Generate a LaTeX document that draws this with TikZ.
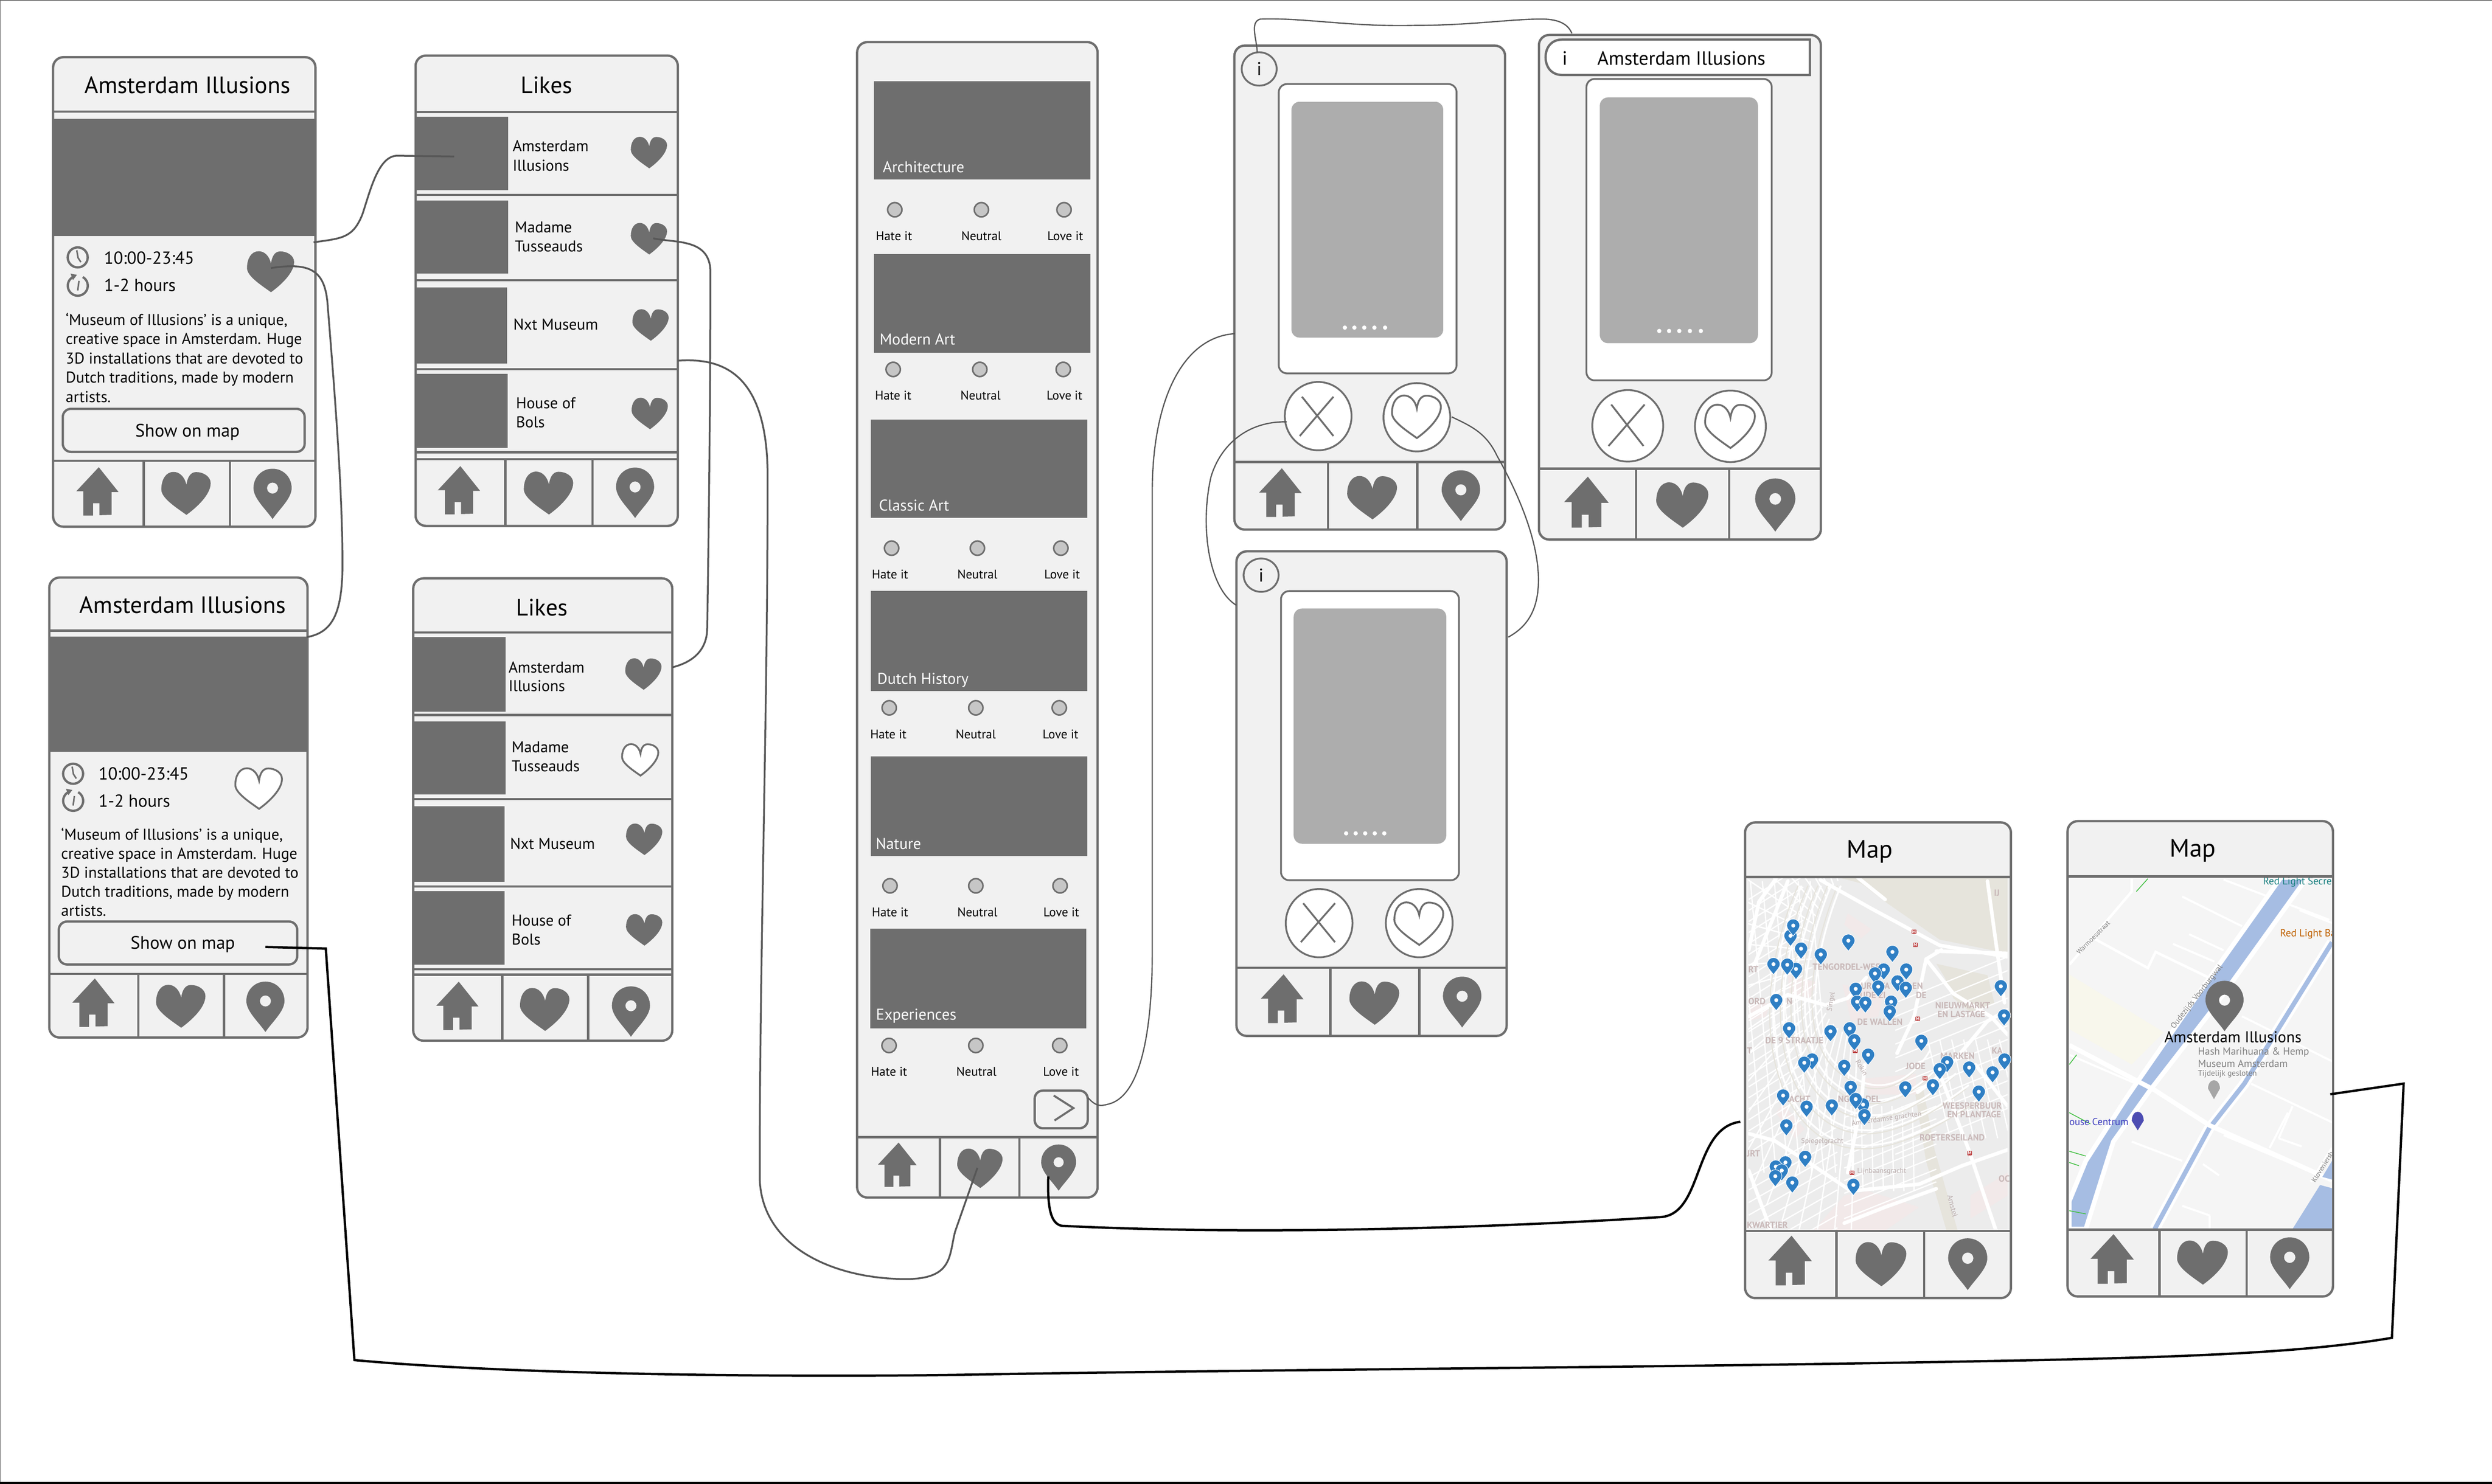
\documentclass[tikz,border=0pt]{standalone}
\usepackage{fontspec}
\setmainfont{PT Sans}
\usetikzlibrary{shapes.geometric}
\definecolor{ink}{HTML}{6E6E6E}
\definecolor{panel}{HTML}{F1F1F1}
\definecolor{cardgray}{HTML}{ADADAD}
\definecolor{radio}{HTML}{C6C6C6}
\definecolor{wire}{HTML}{575757}
\definecolor{mapbg}{HTML}{ECECEC}
\definecolor{maptext}{HTML}{C9B9B9}
\definecolor{canal}{HTML}{A6BDE3}
\definecolor{pinblue}{HTML}{2F7FC4}
\definecolor{maptan}{HTML}{E6E4DC}
\definecolor{mappink}{HTML}{F2E9E9}
\definecolor{maproad}{HTML}{F5F5F5}
\definecolor{mapcream}{HTML}{F8F7EC}
\newcommand{\heartpath}{(0,-4.6) .. controls (-1,-9.3) and (-4,-12.1) .. (-7.4,-12.1) .. controls (-12,-12.1) and (-14.5,-7.5) .. (-14.5,-1.9) .. controls (-14.5,3) and (-6,8.4) .. (0,12.7) .. controls (6,8.4) and (14,1) .. (14,-5.6) .. controls (14,-9.3) and (10,-12) .. (5.6,-12) .. controls (2,-12) and (0.5,-8.4) .. (0,-4.6) -- cycle}
\newcommand{\pinpath}{(0,17.9) .. controls (-4,12) and (-11,6) .. (-11,0) .. controls (-11,-6.5) and (-6,-11.2) .. (0,-11.2) .. controls (6,-11.2) and (11,-6.5) .. (11,0) .. controls (11,6) and (4,12) .. (0,17.9) -- cycle}
\tikzset{
 phonebox/.style={draw=ink,fill=panel,line width=4.5pt,rounded corners=20pt,inner sep=0pt,outer sep=0pt},
 graybox/.style={fill=ink,inner sep=0pt,outer sep=0pt},
 cardbox/.style={draw=ink,fill=white,line width=3.5pt,rounded corners=16pt,inner sep=0pt,outer sep=0pt},
 photobox/.style={fill=cardgray,rounded corners=16pt,inner sep=0pt,outer sep=0pt},
 btnbox/.style={draw=ink,fill=panel,line width=4.5pt,rounded corners=16pt,inner sep=0pt,outer sep=0pt},
 ruleline/.style={draw=ink,line width=4.5pt},
 roundbtn/.style={ellipse,draw=ink,fill=white,line width=3.5pt,inner sep=0pt,outer sep=0pt},
 txt/.style={inner sep=0pt,outer sep=0pt,text depth=0pt},
 txl/.style={txt,anchor=west},
 ftitle/.style={font=\fontsize{46}{55}\selectfont,text height=34pt},
 fmap/.style={font=\fontsize{49}{58}\selectfont,text height=35pt},
 fbody/.style={font=\fontsize{30.5}{37}\selectfont,text height=22pt},
 ftime/.style={font=\fontsize{34}{40}\selectfont,text height=24pt},
 fbtn/.style={font=\fontsize{35}{42}\selectfont,text height=25pt},
 fhead/.style={font=\fontsize{37.5}{44}\selectfont,text height=27pt},
 fover/.style={font=\fontsize{30.6}{37}\selectfont,text height=22pt},
 fsmall/.style={font=\fontsize{24.5}{30}\selectfont,text height=17pt},
 conn/.style={draw=wire,line width=3.5pt},
 thinconn/.style={draw=wire,line width=2.4pt},
 blackconn/.style={draw=black,line width=4.5pt},
 homeicon/.pic={\fill[ink] (0.6,-13.9)--(12,0.4)--(8,0.4)--(8,13.6)--(1,13.8)--(1,6.9)--(-2.7,6.9)--(-2.7,14)--(-8.3,14)--(-8.3,0)--(-12.4,0)--cycle;},
 heartfill/.pic={\fill[ink] \heartpath;},
 heartline/.pic={\draw[ink,line width=3.5pt,fill=white] \heartpath;},
 pinicon/.pic={\fill[ink,even odd rule] \pinpath (0,0) circle (3.2);},
 bluepin/.pic={\draw[white,line width=1pt,fill=pinblue] \pinpath; \fill[white] (0,0) circle (3.4);},
 radiodot/.pic={\draw[ink,fill=radio,line width=3pt] (0,0) circle (4.5);},
 clockicon/.pic={\draw[ink,line width=4.5pt] (0,0) circle (6.3);\draw[ink,line width=3pt] (-0.6,-4.5)--(0.2,0.2)--(2,3);},
 timericon/.pic={\draw[ink,line width=4.5pt] (-1.8,-6) arc (-107:-420:6.3);\draw[ink,line width=3pt] (0.8,-3)--(0,3);\fill[ink] (-4.5,-7.6)--(-0.5,-6.8)--(-3,-3.5)--cycle;},
}
\newcommand{\bx}[6]{\node[#1,minimum width={(#5-#3)*3.09pt},minimum height={(#6-#4)*3.09pt}] (#2) at ({(#3+#5)/2},{(#4+#6)/2}) {};}
\newcommand{\navlines}[6]{\draw[ruleline] (#1,#5)--(#2,#5); \draw[ruleline] (#3,#5)--(#3,#6); \draw[ruleline] (#4,#5)--(#4,#6);}
\newcommand{\navicons}[7]{\pic[scale=#1] at (#2,#3) {homeicon}; \pic[scale=#1] at (#4,#5) {heartfill}; \pic[scale=#1] at (#6,#7) {pinicon};}
\newcount\lblc
\newcommand{\lbl}[4]{\global\advance\lblc by 1 \node[#1] (t\the\lblc) at (#2,#3) {#4};}
\newcommand{\xmark}[8]{\draw[ink,line width=3.5pt] (#1,#2)--(#3,#4); \draw[ink,line width=3.5pt] (#5,#6)--(#7,#8);}
\newcommand{\photodots}[6]{\foreach \dx in {#2,#3,#4,#5,#6}{\fill[white] (\dx,#1) circle (1.35);}}
\newcommand{\rate}[7]{\pic at (#1,#2) {radiodot}; \pic at (#3,#2) {radiodot}; \pic at (#4,#2) {radiodot};
 \lbl{txt,fsmall}{#5}{#7}{Hate it}\lbl{txt,fsmall}{#6}{#7}{Neutral}\lbl{txt,fsmall}{#4+.8}{#7}{Love it}}
\begin{document}
\begin{tikzpicture}[x=3.09pt,y=-3.09pt]
\useasboundingbox (0,0) rectangle (1568,934);
\fill[white] (0,0) rectangle (1568,934);
\draw[black!80,line width=3pt] (0,0)--(1568,0);
\draw[black!60,line width=3pt] (0,0)--(0,934);
\draw[black,line width=8pt] (0,934)--(1568,934);

% ---------- Screen A
\bx{phonebox}{scrA}{33.4}{36}{198.5}{331.5}
\lbl{txt,ftitle}{118}{53.4}{Amsterdam Illusions}
\draw[ruleline] (33.4,70.3)--(198.5,70.3);
\bx{graybox}{imgA}{34}{74.6}{198}{148.4}
\pic at (48.9,162) {clockicon}; \pic at (48.9,179.8) {timericon};
\lbl{txl,ftime}{65.5}{162.3}{10:00-23:45}
\lbl{txl,ftime}{65.5}{179.5}{1-2 hours}
\pic[scale=1.04] at (170.5,170.7) {heartfill};
\lbl{txl,fbody}{41.4}{201}{‘Museum of Illusions’ is a unique,}
\lbl{txl,fbody}{41.4}{213.2}{creative space in Amsterdam. Huge}
\lbl{txl,fbody}{41.4}{225.3}{3D installations that are devoted to}
\lbl{txl,fbody}{41.4}{237.4}{Dutch traditions, made by modern}
\lbl{txl,fbody}{41.4}{249.6}{artists.}
\bx{btnbox}{btnA}{39.5}{257.3}{191.7}{284.4}
\lbl{txt,fbtn}{118}{270.8}{Show on map}
\navlines{33.4}{198.5}{90.5}{144.7}{290}{331.5}
\navicons{1.09}{61.5}{309.2}{117.3}{310.2}{171.5}{307.2}

% ---------- Screen B
\bx{phonebox}{scrB}{261.5}{35}{426.5}{331}
\lbl{txt,ftitle}{344}{53.4}{Likes}
\foreach \yy in {70.6,122.7,176.3,232.4,284.6,289}{\draw[ruleline] (261.5,\yy)--(426.5,\yy);}
\bx{graybox}{imgB1}{262}{73.6}{319.9}{119.7}
\bx{graybox}{imgB2}{262}{126.2}{319.9}{172.3}
\bx{graybox}{imgB3}{262}{180.8}{319.1}{228.9}
\bx{graybox}{imgB4}{262}{235.4}{319.4}{281.9}
\lbl{txl,fbody}{322.6}{91.8}{Amsterdam}
\lbl{txl,fbody}{322.6}{104}{Illusions}
\lbl{txl,fbody}{324}{143}{Madame}
\lbl{txl,fbody}{324}{154.9}{Tusseauds}
\lbl{txl,fbody}{323}{204}{Nxt Museum}
\lbl{txl,fbody}{324.7}{253.6}{House of}
\lbl{txl,fbody}{324.7}{265.4}{Bols}
\pic[scale=.8] at (408.5,95.8) {heartfill};
\pic[scale=.8] at (408.5,150) {heartfill};
\pic[scale=.8] at (409.5,204.3) {heartfill};
\pic[scale=.8] at (409,260) {heartfill};
\navlines{261.5}{426.5}{318}{372.8}{289}{331}
\navicons{1.09}{289}{308.5}{345.4}{310}{399.6}{306.5}

% ---------- Screen C
\bx{phonebox}{scrC}{31}{363.5}{193.5}{653}
\lbl{txt,ftitle}{115}{380.5}{Amsterdam Illusions}
\draw[ruleline] (31,397)--(193.5,397);
\bx{graybox}{imgC}{31.6}{400.5}{193}{473}
\pic at (46,487) {clockicon}; \pic at (46,504) {timericon};
\lbl{txl,ftime}{62}{487}{10:00-23:45}
\lbl{txl,ftime}{62}{504}{1-2 hours}
\pic[scale=1.03] at (163,496) {heartline};
\lbl{txl,fbody}{38.5}{525}{‘Museum of Illusions’ is a unique,}
\lbl{txl,fbody}{38.5}{537}{creative space in Amsterdam. Huge}
\lbl{txl,fbody}{38.5}{549}{3D installations that are devoted to}
\lbl{txl,fbody}{38.5}{561}{Dutch traditions, made by modern}
\lbl{txl,fbody}{38.5}{573}{artists.}
\bx{btnbox}{btnC}{37}{580}{187}{607}
\lbl{txt,fbtn}{115}{593.3}{Show on map}
\navlines{31}{193.5}{87}{141}{613}{653}
\navicons{1.09}{59}{631}{114}{633}{167}{630}

% ---------- Screen D
\bx{phonebox}{scrD}{260}{364}{423}{655}
\lbl{txt,ftitle}{341}{382}{Likes}
\foreach \yy in {398,450,503,558,610,613.5}{\draw[ruleline] (260,\yy)--(423,\yy);}
\bx{graybox}{imgD1}{260.5}{401}{318}{448}
\bx{graybox}{imgD2}{260.5}{454}{318}{500}
\bx{graybox}{imgD3}{260.5}{507.5}{317.5}{555}
\bx{graybox}{imgD4}{260.5}{561}{317.5}{607}
\lbl{txl,fbody}{320}{420}{Amsterdam}
\lbl{txl,fbody}{320}{431.5}{Illusions}
\lbl{txl,fbody}{322}{470}{Madame}
\lbl{txl,fbody}{322}{482}{Tusseauds}
\lbl{txl,fbody}{321}{531}{Nxt Museum}
\lbl{txl,fbody}{322}{579}{House of}
\lbl{txl,fbody}{322}{591}{Bols}
\pic[scale=.8] at (405,424) {heartfill};
\pic[scale=.8] at (403,478) {heartline};
\pic[scale=.8] at (405.5,528) {heartfill};
\pic[scale=.8] at (405.5,585) {heartfill};
\navlines{260}{423}{316}{370}{613.5}{655}
\navicons{1.09}{288}{633}{343}{635}{397}{633}

% ---------- Screen E
\bx{phonebox}{scrE}{539.3}{26.5}{690.6}{753.7}
\bx{graybox}{catA}{550}{51}{686}{113}
\lbl{txl,fbody,text=white}{555.5}{105}{Architecture}
\rate{563}{132}{617.5}{669.5}{562.5}{617.5}{148.5}
\bx{graybox}{catB}{550}{160}{686}{222}
\lbl{txl,fbody,text=white}{553.5}{213.5}{Modern Art}
\rate{562}{232.5}{616.5}{669}{562}{617}{249}
\bx{graybox}{catC}{548}{264}{684}{326}
\lbl{txl,fbody,text=white}{553}{318}{Classic Art}
\rate{561}{345}{615}{667.5}{560}{615}{361.5}
\bx{graybox}{catD}{548}{372}{684}{435}
\lbl{txl,fbody,text=white}{552}{427}{Dutch History}
\rate{559.5}{445.5}{614}{666.5}{559}{614}{462}
\bx{graybox}{catE}{548}{476}{684}{539}
\lbl{txl,fbody,text=white}{551}{531}{Nature}
\rate{560}{557.5}{614}{667}{560}{615}{574}
\bx{graybox}{catF}{547.7}{584.4}{683.5}{647.4}
\lbl{txl,fbody,text=white}{551.2}{638.4}{Experiences}
\rate{559.4}{658}{614}{666.8}{559.4}{614.4}{674.6}
\bx{btnbox}{nextE}{651}{686.4}{684.4}{710.1}
\draw[ink,line width=4pt] (663,689.5)--(675.4,697.4)--(663.5,705.2);
\navlines{539.3}{690.6}{591.4}{641.4}{715.7}{753.7}
\navicons{1}{564.8}{733}{616.8}{735}{666.1}{731.5}

% ---------- Screen F
\bx{phonebox}{scrF}{776.7}{28.7}{947}{333.3}
\node[roundbtn,fill=panel,minimum width=22*3.09pt,minimum height=21*3.09pt,font=\fontsize{36}{40}\selectfont] (infoF) at (792.3,43.4) {i};
\bx{cardbox}{cardF}{804.6}{52.9}{916.5}{235}
\bx{photobox}{photoF}{812.6}{64}{908.1}{212.5}
\photodots{206.2}{846.2}{852.2}{858.4}{864.8}{871.5}
\node[roundbtn,minimum width=42*3.09pt,minimum height=43*3.09pt] (noF) at (829.4,261.9) {};
\node[roundbtn,minimum width=42*3.09pt,minimum height=43*3.09pt] (yesF) at (891.5,262.6) {};
\xmark{819.2}{249.7}{839}{274.4}{839}{249.7}{817.8}{274.4}
\pic[scale=1.08] at (891.5,262) {heartline};
\navlines{776.7}{947}{835.6}{891.8}{290.8}{333.3}
\navicons{1.1}{805.9}{310}{863.6}{312.9}{919.2}{308.3}

% ---------- Screen G
\bx{phonebox}{scrG}{968.3}{22}{1145.7}{339.6}
\draw[ink,line width=4.5pt,fill=white] (1138.8,24.9) -- (1138.8,47.2) -- (983,47.2) .. controls (976,47.2) and (972.5,42) .. (972.5,36) .. controls (972.5,30) and (976,24.9) .. (983,24.9) -- cycle;
\coordinate (infoG) at (989,21);
\node[txt,fhead] (iG) at (984.6,36.5) {i};
\node[txl,fhead] (titleG) at (1005.1,36.5) {Amsterdam Illusions};
\bx{cardbox}{cardG}{998.2}{49.7}{1114.8}{239.4}
\bx{photobox}{photoG}{1006.6}{61.3}{1106.1}{216}
\photodots{208.3}{1044}{1050.2}{1056.6}{1063.3}{1070.2}
\node[roundbtn,minimum width=44.6*3.09pt,minimum height=45*3.09pt] (noG) at (1024.2,268) {};
\node[roundbtn,minimum width=44.6*3.09pt,minimum height=45*3.09pt] (yesG) at (1088.8,268.3) {};
\xmark{1013.8}{254.6}{1034.1}{280.7}{1034.8}{254.6}{1012.1}{280.7}
\pic[scale=1.1] at (1088.8,268) {heartline};
\navlines{968.3}{1145.7}{1029.4}{1088}{295}{339.6}
\navicons{1.15}{998.4}{316}{1058.8}{317.5}{1117}{314}

% ---------- Screen H
\bx{phonebox}{scrH}{778}{347}{948}{652}
\node[roundbtn,fill=panel,minimum width=22*3.09pt,minimum height=21*3.09pt,font=\fontsize{36}{40}\selectfont] (infoH) at (793.5,362) {i};
\bx{cardbox}{cardH}{806}{372}{918}{554}
\bx{photobox}{photoH}{814}{383}{910}{531}
\photodots{524.5}{847}{853}{859}{865}{871}
\node[roundbtn,minimum width=42*3.09pt,minimum height=43*3.09pt] (noH) at (830,581) {};
\node[roundbtn,minimum width=42*3.09pt,minimum height=43*3.09pt] (yesH) at (893,581) {};
\xmark{820}{568.5}{840}{593}{840}{568.5}{818.5}{593}
\pic[scale=1.08] at (893,581) {heartline};
\navlines{778}{948}{837}{893}{609}{652}
\navicons{1.1}{807}{628.5}{865}{631}{920}{627}

% ---------- Screen I (map of pins)
\bx{phonebox}{scrI}{1098}{517.6}{1265.3}{817}
\begin{scope}[shift={(1100.3,550.2)},xscale=0.1073,yscale=0.1445]
\begin{scope}
\clip (-3,15) rectangle (1518,1552);
\fill[mapbg] (-3,15) rectangle (1518,1552);
% tan land and water
\fill[maptan] (530,15)--(1520,15)--(1520,345)--(1120,285)--(800,120)--(660,40)--cycle;
\fill[maptan] (1100,390)--(1400,440)--(1440,560)--(1300,600)--(1200,540)--(1150,450)--cycle;
\fill[maptan] (975,950)--(1025,940)--(1090,1200)--(1225,1552)--(1160,1552)--(1040,1250)--cycle;
% pink patches
\fill[mappink] (230,440)--(400,470)--(360,540)--(240,520)--cycle;
\fill[mappink] (580,170)--(720,240)--(660,280)--(560,220)--cycle;
\fill[mappink] (200,1000)--(330,1110)--(270,1150)--(160,1040)--cycle;
\fill[mappink] (380,1552)--(560,1400)--(700,1380)--(1000,1450)--(800,1552)--cycle;
\fill[mappink] (0,570)--(130,560)--(100,620)--(0,640)--cycle;
\fill[mappink] (550,480)--(790,520)--(760,620)--(600,640)--cycle;
\fill[mappink] (1300,1400)--(1518,1300)--(1518,1400)--(1300,1500)--cycle;
\fill[mappink] (680,890)--(980,870)--(980,960)--(700,960)--cycle;
% western blocks
\foreach \k in {0,48,...,1150}{\draw[white,line width=2.4pt] (0,{110+\k})--(320,{-40+\k});}
\foreach \k in {0,70,...,420}{\draw[white,line width=2.4pt] ({\k-60},30)--({\k+90},1300);}
% radial streets round the centre
\foreach \ang in {93,99,...,280}{\draw[white,line width=2.6pt] ({650+280*cos(\ang)},{350+360*sin(\ang)})--({650+1000*cos(\ang)},{350+1300*sin(\ang)});}
% eastern and southern blocks
\foreach \k in {0,60,...,660}{\draw[white,line width=2.4pt] (860,{560+\k})--(1518,{360+\k});}
\foreach \k in {0,70,...,420}{\draw[white,line width=2.4pt] ({1050+\k},{720})--({1180+\k},{1150});}
\foreach \k in {0,55,...,440}{\draw[white,line width=2.4pt] (560,{1060+\k})--(1100,{900+\k});}
\foreach \k in {0,60,...,360}{\draw[white,line width=2.4pt] ({600+\k},1010)--({610+\k},1380);}
\foreach \k in {0,55,...,500}{\draw[white,line width=2.4pt] (0,{1320+\k})--(520,{1100+\k});}
% ring canals
\foreach \k in {0,.16,.32,.48,.64}{
 \draw[maptan,line width=2.2pt] ({520-360*\k},{50}) .. controls ({330-450*\k},{400+100*\k}) and ({300-380*\k},{760+320*\k}) .. ({560-200*\k},{880+420*\k}) .. controls ({760-100*\k},{1000+420*\k}) and ({960+100*\k},{900+380*\k}) .. ({1050+470*\k},{780+320*\k});
 \draw[white,line width=3.5pt] ({540-360*\k},{50}) .. controls ({350-450*\k},{400+100*\k}) and ({320-380*\k},{750+320*\k}) .. ({575-200*\k},{865+420*\k}) .. controls ({775-100*\k},{985+420*\k}) and ({975+100*\k},{885+380*\k}) .. ({1065+470*\k},{765+320*\k});
}
% main roads
\foreach \a/\b/\c/\d in {420/25/720/150,720/150/1120/310,1120/310/1520/360,1100/335/1520/345,640/15/800/110,1400/30/1450/300,1450/300/1500/560,160/20/60/120,60/120/0/330,230/30/30/400,1040/370/1200/520,1200/520/1420/620,1420/620/1520/700,1130/330/1040/370,1040/370/970/620,970/620/870/780,1100/830/1290/1200,1290/1200/1450/1552,1330/830/1518/1010,0/620/230/525,230/525/450/570,450/570/580/540,580/540/690/450,1150/860/1400/640,1400/640/1520/590,0/1130/150/1160,150/1160/360/1260,360/1260/600/1380,600/1380/1000/1350,1000/1350/1250/1270,1250/1270/1520/1200,560/1520/800/1450,800/1450/1100/1370,0/1290/130/1552,990/950/1150/860,680/830/660/1000,660/1000/580/1300}
 {\draw[white,line width=7pt,line cap=round] (\a,\b)--(\c,\d);}
\end{scope}
\end{scope}
\begin{scope}[shift={(1084.1,508.1)},xscale=0.289,yscale=0.2023]
\begin{scope}
\clip (52,221) rectangle (625,1316);
\foreach \tx/\ty/\tl in {55/505/RT,195/497/TENGORDEL-WES,55/603/ORD,138/603/N,300/556/URGWA,412/556/EN,298/585/UDE ZI,420/585/DE,
 292/668/DE WALLEN,92/725/DE 9 STRAATJE,462/617/NIEUWMARKT,467/643/EN LASTAGE,473/773/MARKEN,398/806/JODE,585/757/KA,52/757/T,
 133/908/RACHT,250/908/NG,310/908/DEL,478/929/WEESPERBUUR,488/955/EN PLANTAGE,428/1027/ROETERSEILAND,52/1077/JRT,52/1300/KWARTIER,590/267/IJ,600/1155/OC}
 {\node[inner sep=0pt,anchor=west,text=maptext,font=\fontsize{17.5}{22}\selectfont\bfseries] (m\tx) at (\tx,\ty) {\tl};}
\node[inner sep=0pt,anchor=west,text=maptext!80!gray,font=\fontsize{14}{16}\selectfont] (mSp) at (170,1040) {Spiegelgracht};
\node[inner sep=0pt,anchor=west,text=maptext!80!gray,font=\fontsize{14}{16}\selectfont] (mLi) at (292,1133) {Lijnbaansgracht};
\node[inner sep=0pt,anchor=west,text=maptext!80!gray,rotate=8,font=\fontsize{14}{16}\selectfont] (mAg) at (280,985) {Amsterdamse grachten};
\node[inner sep=0pt,text=maptext!80!gray,rotate=80,font=\fontsize{14}{16}\selectfont] (mSi) at (236,605) {Singel};
\node[inner sep=0pt,text=maptext!80!gray,rotate=-60,font=\fontsize{14}{16}\selectfont] (mRo) at (302,810) {Rokin};
\node[inner sep=0pt,text=maptext!80!gray,rotate=-75,font=\fontsize{15}{18}\selectfont] (mAm) at (500,1240) {Amstel};
\foreach \mx/\my in {419/428,424/658,288/758,440/843,537/1076,281/1137,416/387}
 {\node[fill=red!65!black!75,text=white,inner sep=1pt,rounded corners=1pt,font=\fontsize{9}{10}\selectfont\bfseries] (me\mx) at (\mx,\my) {M};}
\end{scope}
\end{scope}
\foreach \zx/\zy in {147/400,153/368,170/440,273/415,213/458,369/450,159/503,110/488,140/490,350/505,331/517,399/505,380/542,398/562,338/558,289/565,605/557,116/600,292/605,310/608,366/605,363/635,612/648,144/688,234/697,276/688,286/725,432/727,316/770,194/785,177/795,264/805,488/793,536/810,472/815,587/825,613/785,457/865,397/872,278/870,557/885,131/897,305/925,289/908,182/932,237/928,308/958,138/990,179/1088,136/1105,115/1118,128/1130,114/1148,151/1168,284/1175}
 {\pic[scale=.37] at ({1084.1+\zx/3.46},{508.1+\zy/4.944}) {bluepin};}
\draw[ruleline] (1098,552)--(1265.3,552);
\lbl{txt,fmap}{1176.6}{534.4}{Map}
\navlines{1098}{1265.3}{1155.5}{1210.7}{774.7}{817}
\navicons{1.12}{1126.6}{793.3}{1183.8}{795.3}{1238.1}{791.9}

% ---------- Screen J (street map)
\bx{phonebox}{scrJ}{1300.9}{516.8}{1467.9}{816}
\begin{scope}[shift={(1084.1,508.1)},xscale=0.289,yscale=0.2023]
\begin{scope}
\clip (754,218) rectangle (1326,1312);
\fill[maproad] (754,218) rectangle (1326,1312);
\fill[mapcream] (754,520)--(960,700)--(890,800)--(754,690)--cycle;
\draw[white,line width=5pt] (890,222)--(890,262)--(754,490);
\draw[white,line width=5pt] (810,410)--(925,500)--(942,450)--(1080,545);
\foreach \lx/\ly/\mx/\my in {1000/278/1130/370,1090/225/1320/350,1015/395/1090/445,980/425/1070/480,1255/320/1326/360,754/770/900/860,890/1040/1000/1100,1150/860/1326/980,1090/1020/1326/1160,1240/930/1210/1030,1210/1030/1260/1055,1190/1060/1230/950,1045/1110/1080/1145,1000/1240/1060/1270,1060/1270/1060/1312,1130/650/1326/790}
 {\draw[white,line width=4pt] (\lx,\ly)--(\mx,\my);}
\filldraw[fill=canal,draw=white,line width=9pt] (754,1225)--(790,1100)--(880,900)--(1040,570)--(1215,218)--(1272,218)--(1060,640)--(930,880)--(850,1040)--(790,1312)--(754,1312)--cycle;
\draw[white,line width=20pt] (940,1312)--(1058,1000)--(1135,860)--(1326,420);
\draw[canal,line width=9pt] (940,1312)--(1058,1000)--(1135,860)--(1326,420);
\draw[white,line width=9pt] (754,740)--(940,880)--(1060,990)--(1326,1160);
\fill[canal] (1240,1312)--(1300,1175)--(1326,1185)--(1326,1312)--cycle;
\fill[canal] (1305,1150)--(1326,1100)--(1326,1158)--cycle;
\draw[white,line width=5pt] (1280,1165)--(1326,1060);
\draw[green!50!gray,line width=1.5pt] (900,262)--(925,222);
\draw[green!50!gray,line width=1.5pt] (754,800)--(770,770);
\draw[green!50!gray,line width=1.5pt] (754,950)--(800,985);
\draw[green!50!gray,line width=1.5pt] (754,1070)--(790,1085);
\draw[green!50!gray,line width=1.5pt] (754,1105)--(775,1115);
\draw[green!50!gray,line width=1.5pt] (754,1255)--(790,1265);
\node[inner sep=0pt,text=gray,rotate=45,font=\fontsize{13.5}{16}\selectfont] (jWa) at (806,405) {Warmoesstraat};
\node[inner sep=0pt,text=gray,rotate=52,font=\fontsize{15.5}{18}\selectfont] (jOu) at (1032,590) {Oudezijds Voorburgwal};
\node[inner sep=0pt,text=gray,rotate=58,font=\fontsize{13.5}{16}\selectfont,anchor=west] (jKl) at (1285,1165) {Kloveniersb};
\node[inner sep=0pt,anchor=west,text=teal!80!gray,font=\fontsize{20}{24}\selectfont] (jRs) at (1176,232) {Red Light Secre};
\node[inner sep=0pt,anchor=west,text=orange!75!black,font=\fontsize{20}{24}\selectfont] (jRb) at (1213,395) {Red Light Ba};
\node[inner sep=0pt,anchor=west,text=blue!50!gray,font=\fontsize{19.5}{24}\selectfont] (jHo) at (754,978) {ouse Centrum};
\fill[blue!40!gray] (903,1005) -- (890,975) arc (180:360:13 and 28) -- cycle;
\end{scope}
\node[inner sep=0pt,anchor=west,text=gray,font=\fontsize{20}{24}\selectfont] (jHa) at (1034,762) {Hash Marihuana \& Hemp};
\node[inner sep=0pt,anchor=west,text=gray,font=\fontsize{20}{24}\selectfont] (jMu) at (1034,797) {Museum Amsterdam};
\node[inner sep=0pt,anchor=west,text=gray,font=\fontsize{15.5}{19}\selectfont] (jTi) at (1034,829) {Tijdelijk gesloten};
\fill[gray!70] (1069,908) -- (1056,875) arc (180:360:13 and 26) -- cycle;
\end{scope}
\pic[scale=1.09] at (1399.7,629.5) {pinicon};
\lbl{txt,fover}{1405}{652.5}{Amsterdam Illusions}
\draw[ruleline] (1300.9,551.6)--(1467.9,551.6);
\lbl{txt,fmap}{1379.8}{533.8}{Map}
\navlines{1300.9}{1467.9}{1358.7}{1413.6}{774}{816}
\navicons{1.12}{1329.2}{792.3}{1386.1}{794.3}{1440.7}{791.3}

% ---------- Connector ends
\coordinate (c1s) at (197.3,152.5);
\coordinate (c1e) at (285.8,98.5);
\coordinate (c2s) at (170.5,168.7);
\coordinate (c2e) at (193,401);
\coordinate (c3s) at (411,150);
\coordinate (c3e) at (423,420);
\coordinate (c4s) at (426.5,227);
\coordinate (c4e) at (615,735);
\coordinate (c5s) at (684.4,690.7);
\coordinate (c5e) at (777,210);
\coordinate (c6s) at (791,33);
\coordinate (c7s) at (809.6,265.5);
\coordinate (c7e) at (778,381);
\coordinate (c8s) at (913.5,262.4);
\coordinate (c8e) at (949,401);
\coordinate (c9s) at (659.6,740.4);
\coordinate (c9e) at (1095,706);
\coordinate (c10s) at (167,596);
\coordinate (c10e) at (1466.2,688.7);

\draw[conn] (c1s) .. controls (215,150) and (222,150) .. (228,135) .. controls (233,120) and (238,98) .. (250,98) -- (c1e);
\draw[conn] (c2s) .. controls (195,165) and (204,170) .. (206,190) .. controls (210,240) and (215,300) .. (215.5,350) .. controls (216,385) and (210,398) .. (c2e);
\draw[conn] (c3s) .. controls (425,153) and (446,150) .. (447,170) .. controls (447,250) and (446,330) .. (445,395) .. controls (445,410) and (435,417) .. (c3e);
\draw[conn] (c4s) .. controls (455,225) and (483,235) .. (483,300) .. controls (483,450) and (478,600) .. (478,740) .. controls (478,785) and (525,805) .. (570,805) .. controls (600,805) and (597,790) .. (601,775) -- (c4e);
\draw[thinconn] (c5s) .. controls (690,697) and (693,696) .. (697,695) .. controls (720,690) and (725,640) .. (725,600) -- (725,310) .. controls (725,250) and (745,212) .. (c5e);
\draw[thinconn] (c6s) .. controls (791,25) and (786,14) .. (793,12) .. controls (820,11) and (850,17) .. (890,16) .. controls (925,16) and (950,12) .. (970,12) .. controls (982,12) and (987,16) .. (infoG);
\draw[thinconn] (c7s) .. controls (785,265) and (768,280) .. (762,300) .. controls (755,330) and (760,370) .. (c7e);
\draw[thinconn] (c8s) .. controls (925,268) and (935,272) .. (942,287) .. controls (955,310) and (968,340) .. (968,365) .. controls (968,385) and (960,395) .. (c8e);
\draw[blackconn] (c9s) .. controls (659,760) and (661,770) .. (668,771.5) .. controls (800,778) and (950,772) .. (1045,766) .. controls (1072,764) and (1065,710) .. (c9e);
\draw[blackconn] (c10s) -- (205,597) -- (223,856) .. controls (330,866) and (520,867) .. (619,865) .. controls (800,862) and (1000,861) .. (1191,857.7) .. controls (1350,855) and (1440,853) .. (1505,842) -- (1512.4,682) -- (c10e);
\end{tikzpicture}
\end{document}
